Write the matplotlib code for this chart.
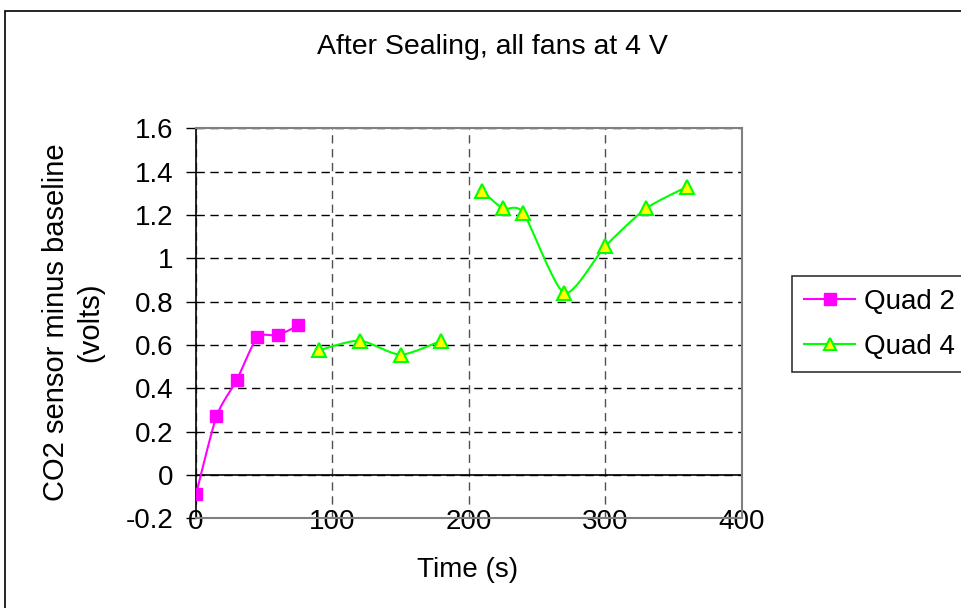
import numpy as np
import matplotlib
matplotlib.use("Agg")
import matplotlib.pyplot as plt
from matplotlib.patches import Rectangle

plt.rcParams['font.family'] = ['Liberation Sans', 'DejaVu Sans']

# data
quad2_t = [0, 15, 30, 45, 60, 75]
quad2_v = [-0.09, 0.27, 0.44, 0.635, 0.645, 0.69]

quad4_t = [90, 120, 150, 180, 195, 210, 225, 240, 270, 300, 330, 360]
quad4_v = [0.575, 0.62, 0.555, 0.62, np.nan, 1.31, 1.23, 1.21, 0.84, 1.055, 1.23, 1.33]


# smoothed line like excel's, broken where a value is missing
def smooth(x, y, n=20, k=0.35):
    x = np.asarray(x, float)
    y = np.asarray(y, float)
    segs = []
    cur = []
    for xi, yi in zip(x, y):
        if np.isnan(yi):
            if cur:
                segs.append(cur)
            cur = []
        else:
            cur.append((xi, yi))
    if cur:
        segs.append(cur)
    out = []
    for s in segs:
        p = np.array(s)
        if len(p) < 2:
            continue
        pp = np.vstack([p[0], p, p[-1]])
        xs, ys = [], []
        for i in range(1, len(pp) - 2):
            p0, p1, p2, p3 = pp[i - 1], pp[i], pp[i + 1], pp[i + 2]
            m1 = k * (p2 - p0)
            m2 = k * (p3 - p1)
            t = np.linspace(0, 1, n)[:, None]
            h00 = 2 * t**3 - 3 * t**2 + 1
            h10 = t**3 - 2 * t**2 + t
            h01 = -2 * t**3 + 3 * t**2
            h11 = t**3 - t**2
            c = h00 * p1 + h10 * m1 + h01 * p2 + h11 * m2
            xs.extend(c[:, 0])
            ys.extend(c[:, 1])
        out.append((xs, ys))
    return out


fig = plt.figure(figsize=(9.61, 6.08), dpi=100)
W, H = 961, 608

# outer chart border
fig.patches.append(Rectangle((5 / W, -0.05), 1.2, 1 - 11 / H + 0.05, transform=fig.transFigure,
                             fill=False, edgecolor='black', linewidth=1.2, clip_on=False))

ax = fig.add_axes([196 / W, 1 - 518.3 / H, (741.5 - 196) / W, (518.3 - 128.3) / H])

for xs, ys in smooth(quad2_t, quad2_v):
    ax.plot(xs, ys, color='#FF00FF', lw=1.5, zorder=3)
ax.plot(quad2_t, quad2_v, ls='none', marker='s', ms=9, color='#FF00FF', zorder=4)
for xs, ys in smooth(quad4_t, quad4_v):
    ax.plot(xs, ys, color='#00FF00', lw=1.5, zorder=3)
ax.plot(quad4_t, quad4_v, ls='none', marker='^', ms=10, mfc='#FFFF00', mec='#00FF00', mew=1.5, zorder=4)

# legend proxies
h2, = ax.plot([], [], color='#FF00FF', lw=1.5, marker='s', ms=8)
h4, = ax.plot([], [], color='#00FF00', lw=1.5, marker='^', ms=9, mfc='#FFFF00', mec='#00FF00', mew=1.5)

ax.set_xlim(0, 400)
ax.set_ylim(-0.2, 1.6)
ax.set_xticks([0, 100, 200, 300, 400])
ax.set_yticks(np.arange(-0.2, 1.61, 0.2))
ax.set_yticklabels(['-0.2', '0', '0.2', '0.4', '0.6', '0.8', '1', '1.2', '1.4', '1.6'])
ax.tick_params(axis='both', labelsize=20)
ax.tick_params(axis='y', direction='out', length=7, width=1, pad=9)
ax.tick_params(axis='x', length=0, pad=-7)

ax.yaxis.grid(True, ls=(0, (6, 4)), color='black', lw=1)
ax.xaxis.grid(True, ls=(0, (6, 4)), color='#505050', lw=1)
ax.axhline(0, color='black', lw=1.2, zorder=2)

for s in ['top', 'right', 'bottom']:
    ax.spines[s].set_color('#808080')
    ax.spines[s].set_linewidth(1.5)
ax.spines['left'].set_color('black')
ax.spines['left'].set_linewidth(1.2)

fig.text(492 / W, 1 - 47 / H, 'After Sealing, all fans at 4 V', ha='center', va='center', fontsize=20.5)
fig.text(73 / W, 1 - 322 / H, 'CO2 sensor minus baseline\n(volts)', ha='center', va='center',
         rotation=90, fontsize=21, linespacing=1.25)
fig.text(468 / W, 1 - 570 / H, 'Time (s)', ha='center', va='center', fontsize=20)

leg = fig.legend([h2, h4], ['Quad 2', 'Quad 4'], loc='upper left',
                 bbox_to_anchor=(791.5 / W, 1 - 276 / H), fontsize=20, frameon=True,
                 fancybox=False, edgecolor='black', handlelength=1.85, handletextpad=0.32,
                 borderpad=0.45, labelspacing=0.7, borderaxespad=0)
leg.get_frame().set_linewidth(1.2)

fig.savefig('out.png', dpi=100)
